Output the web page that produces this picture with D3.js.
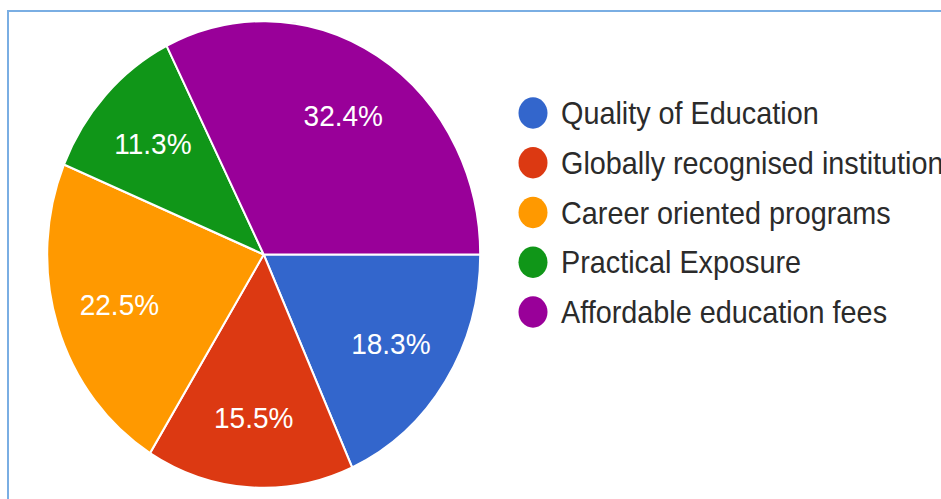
<!DOCTYPE html>
<html>
<head>
<meta charset="utf-8">
<script src="https://cdn.jsdelivr.net/npm/d3@7"></script>
<style>
  html, body { margin: 0; padding: 0; background: #fff; }
  svg { display: block; }
</style>
</head>
<body>
<svg id="chart" width="941" height="499"></svg>
<script>
const categories = ["Quality of Education", "Globally recognised institution", "Career oriented programs", "Practical Exposure", "Affordable education fees"];
const values = [18.3, 15.5, 22.5, 11.3, 32.4];
const colors = ["#3366cc", "#dc3912", "#ff9900", "#109618", "#990099"];

const svg = d3.select("#chart");
const W = 941, H = 499;
const sy = 1.078;

// frame
svg.append("rect")
  .attr("x", 8).attr("y", 11)
  .attr("width", W + 20).attr("height", H + 20)
  .attr("fill", "none")
  .attr("stroke", "#7aaee3")
  .attr("stroke-width", 2);

const cx = 263.7, cy = 254.5, r = 216.5;
const g = svg.append("g").attr("transform", `translate(${cx},${cy}) scale(1,${sy})`);

const pie = d3.pie().sort(null).value(d => d.v)
  .startAngle(Math.PI / 2).endAngle(Math.PI / 2 + 2 * Math.PI);
const data = categories.map((c, i) => ({ c, v: values[i], col: colors[i] }));
const arcs = pie(data);
const arc = d3.arc().innerRadius(0).outerRadius(r);
const labelArc = d3.arc().innerRadius(r * 0.7).outerRadius(r * 0.7);

g.selectAll("path.slice").data(arcs).join("path")
  .attr("class", "slice")
  .attr("d", arc)
  .attr("fill", d => d.data.col)
  .attr("stroke", "#ffffff")
  .attr("stroke-width", 2)
  .attr("stroke-linejoin", "round");

const fmt = d3.format(".1f");
g.selectAll("text.lbl").data(arcs).join("text")
  .attr("class", "lbl")
  .attr("transform", d => `translate(${labelArc.centroid(d)})`)
  .attr("text-anchor", "middle")
  .attr("dy", "0.36em")
  .attr("fill", "#ffffff")
  .attr("font-family", "Liberation Sans, Arial, sans-serif")
  .attr("font-size", 28)
  .text(d => fmt(d.data.v) + "%");

// legend
const lg = svg.append("g");
const legY = d3.scalePoint().domain(categories).range([113, 312]);
const items = lg.selectAll("g.item").data(data).join("g")
  .attr("class", "item")
  .attr("transform", d => `translate(533,${legY(d.c)}) scale(1,${sy})`);
items.append("circle")
  .attr("r", 14.5)
  .attr("fill", d => d.col);
items.append("text")
  .attr("x", 28)
  .attr("dy", "0.36em")
  .attr("fill", "#2b2b2b")
  .attr("font-family", "Liberation Sans, Arial, sans-serif")
  .attr("font-size", 28.8)
  .text(d => d.c);
</script>
</body>
</html>
